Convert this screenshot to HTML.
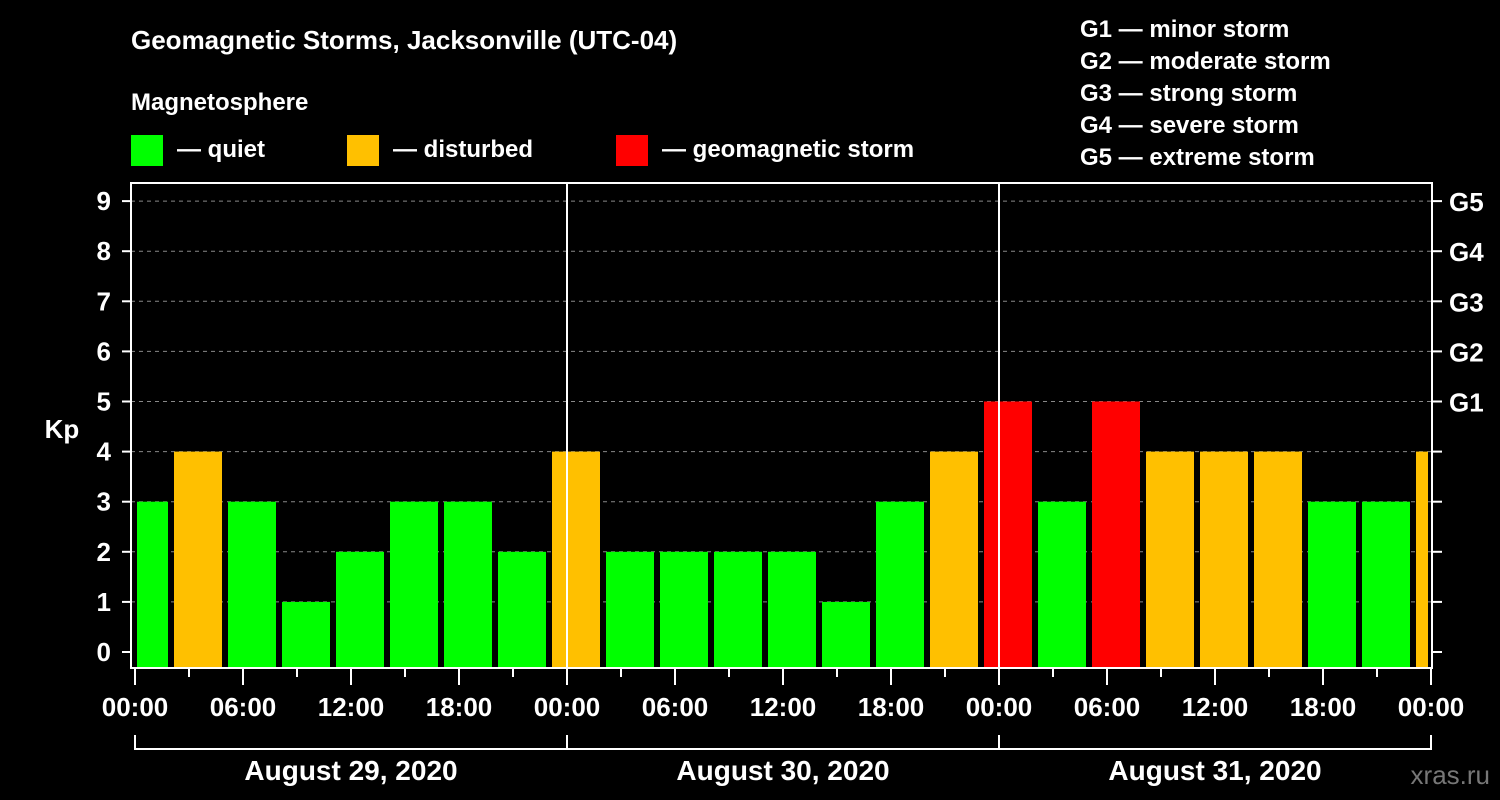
<!DOCTYPE html>
<html><head><meta charset="utf-8"><style>
html,body{margin:0;padding:0;background:#000;}
svg{display:block;font-family:"Liberation Sans",Arial,sans-serif;font-weight:bold;}
</style></head><body>
<svg id="chart" width="1500" height="800" viewBox="0 0 1500 800">
<rect x="0" y="0" width="1500" height="800" fill="#000"/>
<text x="131" y="49" fill="#fff" font-size="26">Geomagnetic Storms, Jacksonville (UTC-04)</text>
<text x="131" y="110" fill="#fff" font-size="24">Magnetosphere</text>
<g><rect x="131" y="135" width="32" height="31" fill="#00ff00"/><text x="177" y="157" fill="#fff" font-size="24">— quiet</text></g>
<g><rect x="347" y="135" width="32" height="31" fill="#ffc000"/><text x="393" y="157" fill="#fff" font-size="24">— disturbed</text></g>
<g><rect x="616" y="135" width="32" height="31" fill="#ff0000"/><text x="662" y="157" fill="#fff" font-size="24">— geomagnetic storm</text></g>
<g fill="#fff" font-size="24">
<text x="1080" y="37">G1 — minor storm</text>
<text x="1080" y="69">G2 — moderate storm</text>
<text x="1080" y="101">G3 — strong storm</text>
<text x="1080" y="133">G4 — severe storm</text>
<text x="1080" y="165">G5 — extreme storm</text>
</g>
<text x="62" y="438" fill="#fff" font-size="26" text-anchor="middle">Kp</text>
<text x="1490" y="784" fill="#777" font-size="26" text-anchor="end" font-weight="normal">xras.ru</text>
<defs><clipPath id="plotclip"><rect x="137" y="183" width="1291" height="485"/></clipPath></defs>
<g id="grid"></g>
<g id="bars" clip-path="url(#plotclip)"></g>
<g id="axes"></g>
</svg>
<script>
const kpValues = [3,4,3,1,2,3,3,2,4, 2,2,2,2,1,3,4, 5,3,5,4,4,4,3,3, 4];
const barHourCenters = [0.5,3.5,6.5,9.5,12.5,15.5,18.5,21.5,24.5,27.5,30.5,33.5,36.5,39.5,42.5,45.5,48.5,51.5,54.5,57.5,60.5,63.5,66.5,69.5,72.5];
const yTicks = [0,1,2,3,4,5,6,7,8,9];
const gLabels = ["G1","G2","G3","G4","G5"];
const gLevels = [5,6,7,8,9];
const hourLabels = ["00:00","06:00","12:00","18:00","00:00","06:00","12:00","18:00","00:00","06:00","12:00","18:00","00:00"];
const dayLabels = ["August 29, 2020","August 30, 2020","August 31, 2020"];

const NS="http://www.w3.org/2000/svg";
const X0=135, PXH=18, Y0=652, PXK=50.1, TOP=183, BOT=668;
const xs = h => X0 + h*PXH;
const ys = k => Y0 - k*PXK;
function mk(tag, attrs, parent){const e=document.createElementNS(NS,tag);for(const k in attrs)e.setAttribute(k,attrs[k]);parent.appendChild(e);return e;}
const grid=document.getElementById('grid'), bars=document.getElementById('bars'), axes=document.getElementById('axes');

yTicks.forEach(k=>{
  if(k>0){const l=mk('line',{x1:131,x2:1432,y1:ys(k),y2:ys(k),stroke:'#888','stroke-width':1,'stroke-dasharray':'4,4'},grid);
  
  }
  const t=mk('line',{x1:122,x2:131,y1:ys(k),y2:ys(k),stroke:'#fff','stroke-width':2},axes);
  
  
  const t2=mk('line',{x1:1432,x2:1442,y1:ys(k),y2:ys(k),stroke:'#fff','stroke-width':2},axes);
  
  
  const tx=mk('text',{x:111,y:ys(k)+9,fill:'#fff','font-size':26,'text-anchor':'end'},axes);
  tx.textContent=k;
  
  
});
gLabels.forEach((g,i)=>{
  const tx=mk('text',{x:1449,y:ys(gLevels[i])+10,fill:'#fff','font-size':26},axes);
  tx.textContent=g;
  
  
});
kpValues.forEach((v,i)=>{
  const c = v>=5?'#ff0000':(v>=4?'#ffc000':'#00ff00');
  const cx=xs(barHourCenters[i]);
  const top=ys(v);
  const r=mk('rect',{x:cx-24,y:top,width:48,height:BOT-top,fill:c},bars);
  
  
});
// frame
const fr=mk('rect',{x:131,y:TOP,width:1301,height:BOT-TOP,fill:'none',stroke:'#fff','stroke-width':2},axes);


[24,48].forEach(h=>{
  const l=mk('line',{x1:xs(h),x2:xs(h),y1:TOP,y2:BOT,stroke:'#fff','stroke-width':2},axes);
  
  
});
for(let h=0;h<=72;h+=3){
  const major=h%6===0;
  const l=mk('line',{x1:xs(h),x2:xs(h),y1:BOT,y2:major?685:677,stroke:'#fff','stroke-width':2},axes);
  
  
}
hourLabels.forEach((s,i)=>{
  const tx=mk('text',{x:xs(i*6),y:716,fill:'#fff','font-size':26,'text-anchor':'middle'},axes);
  tx.textContent=s;
  
  
});
const br=mk('line',{x1:xs(0),x2:xs(72),y1:749,y2:749,stroke:'#fff','stroke-width':2},axes);


[0,24,48,72].forEach(h=>{
  const l=mk('line',{x1:xs(h),x2:xs(h),y1:735,y2:750,stroke:'#fff','stroke-width':2},axes);
  
  
});
dayLabels.forEach((s,i)=>{
  const tx=mk('text',{x:xs(i*24+12),y:780,fill:'#fff','font-size':28,'text-anchor':'middle'},axes);
  tx.textContent=s;
  
  
});
</script>
</body></html>
